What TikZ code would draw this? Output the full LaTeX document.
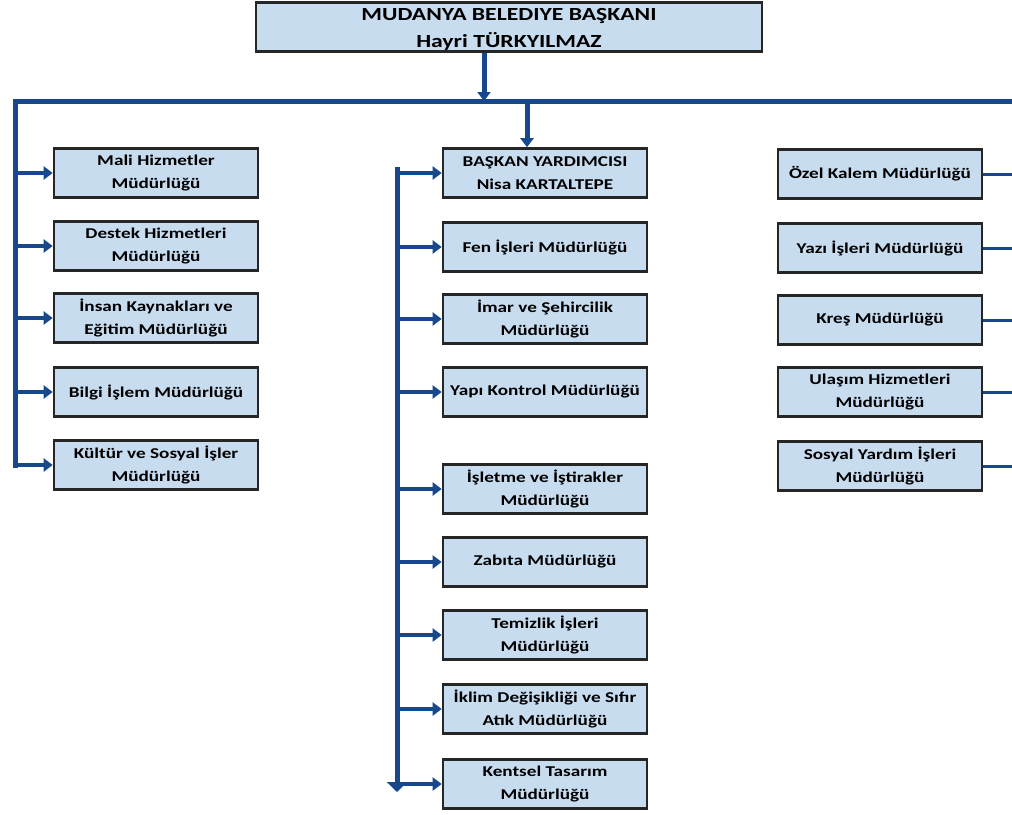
\documentclass[tikz,border=0pt]{standalone}
\usepackage{fontspec}
\setmainfont{Carlito}[FakeStretch=1.28]
\usetikzlibrary{arrows.meta}
\definecolor{hatmavi}{RGB}{24,72,140}
\definecolor{kutumavi}{RGB}{200,220,240}

\begin{document}
\begin{tikzpicture}[x=1pt,y=-1pt]

        \useasboundingbox (0,0) rectangle (1012,814);

        \begin{scope}[every node/.style={draw=black!85, line width=2.6pt, fill=kutumavi,
            minimum width=204pt, minimum height=49pt, inner sep=0pt, align=center,
            font=\bfseries\fontsize{15}{23}\selectfont}]
          \node[minimum width=506pt, font=\bfseries\fontsize{18.5}{27.5}\selectfont]
            (baskan) at (509,27) {\rule{0pt}{17pt}MUDANYA BELEDIYE BAŞKANI\\Hayri TÜRKYILMAZ};

          \node (sol1) at (156,173) {Mali Hizmetler\\Müdürlüğü};
          \node (sol2) at (156,246) {Destek Hizmetleri\\Müdürlüğü};
          \node (sol3) at (156,318) {İnsan Kaynakları ve\\Eğitim Müdürlüğü};
          \node (sol4) at (156,392) {Bilgi İşlem Müdürlüğü};
          \node (sol5) at (156,465) {Kültür ve Sosyal İşler\\Müdürlüğü};

          \node (orta1) at (545,173) {BAŞKAN YARDIMCISI\\Nisa KARTALTEPE};
          \node (orta2) at (545,247) {Fen İşleri Müdürlüğü};
          \node (orta3) at (545,319) {İmar ve Şehircilik\\Müdürlüğü};
          \node (orta4) at (545,392) {Yapı Kontrol Müdürlüğü};
          \node (orta5) at (545,489) {İşletme ve İştirakler\\Müdürlüğü};
          \node (orta6) at (545,562) {Zabıta Müdürlüğü};
          \node (orta7) at (545,635) {Temizlik İşleri\\Müdürlüğü};
          \node (orta8) at (545,709) {İklim Değişikliği ve Sıfır\\Atık Müdürlüğü};
          \node (orta9) at (545,784) {Kentsel Tasarım\\Müdürlüğü};

          \node (sag1) at (880,174) {Özel Kalem Müdürlüğü};
          \node (sag2) at (880,248) {Yazı İşleri Müdürlüğü};
          \node (sag3) at (880,320) {Kreş Müdürlüğü};
          \node (sag4) at (880,392) {Ulaşım Hizmetleri\\Müdürlüğü};
          \node (sag5) at (880,466) {Sosyal Yardım İşleri\\Müdürlüğü};
        \end{scope}

        \coordinate (solkose) at (15,101);
        \coordinate (sagkose) at (1016,101);
        \coordinate (solalt)  at (15,468);
        \coordinate (inis)    at (484,101);
        \coordinate (dal)     at (527,101);
        \coordinate (ortaust) at (397,167);
        \coordinate (ortaalt) at (397,792);

        \begin{scope}[every path/.style={draw=hatmavi, line width=4pt},
            ok/.style={-{Triangle[length=9pt,width=13pt]}}]
          \path[line width=5pt] (sagkose) -- (solkose) -- (solalt);
          \path[ok, line width=5pt] (inis |- baskan.south) -- (inis);
          \path[ok, line width=5pt] (dal) -- (dal |- orta1.north);
          \path[line width=5pt, -{Triangle[length=10pt,width=20pt]}] (ortaust) -- (ortaalt);

          \foreach \b in {sol1,sol2,sol3,sol4,sol5}
            \path[ok] (\b.west -| solkose) -- (\b.west);
          \foreach \b in {orta1,orta2,orta3,orta4,orta5,orta6,orta7,orta8,orta9}
            \path[ok] (\b.west -| ortaust) -- (\b.west);
          \foreach \b in {sag1,sag2,sag3,sag4,sag5}
            \path[line width=3pt] (\b.east) -- (\b.east -| sagkose);
        \end{scope}

      \end{tikzpicture}
\end{document}
